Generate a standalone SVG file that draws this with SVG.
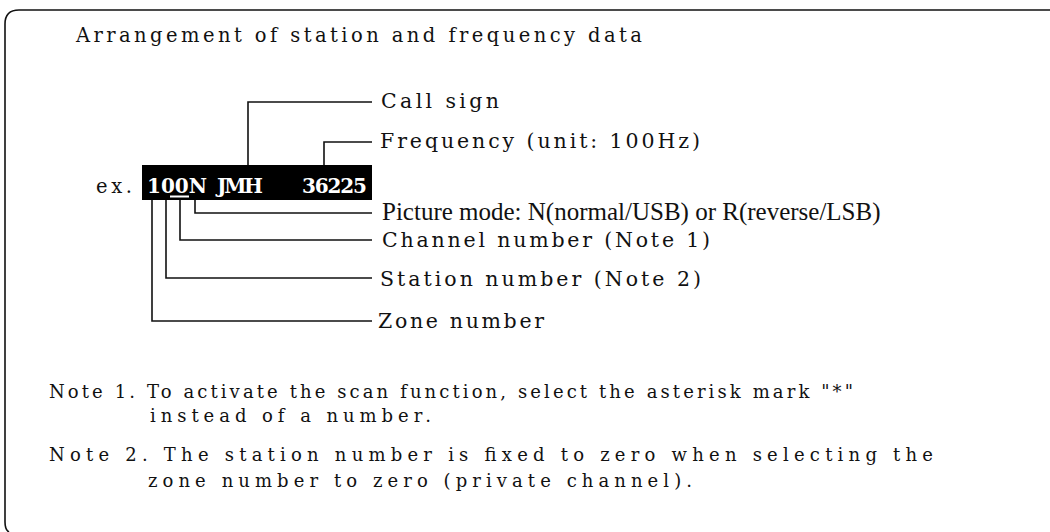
<svg xmlns="http://www.w3.org/2000/svg" width="1050" height="532" viewBox="0 0 1050 532">
<style>
text{font-family:"DejaVu Serif","Liberation Serif",serif;fill:#111;}
.title{font-size:19.5px;}
.lbl{font-size:20.5px;}
.pm{font-family:"Liberation Serif","Times New Roman",serif;font-size:25px;}
.note{font-size:18px;}
.disp{font-size:20px;font-weight:bold;fill:#fff;}
.ln{fill:none;stroke:#111;stroke-width:1.6;}
</style>
<rect width="1050" height="532" fill="#fff"/>
<path class="ln" d="M9 532 Q5 530 5 522 L5 24 Q5 10 19 10 L1050 10" stroke-width="2"/>
<g id="title"><text class="title" x="76" y="42" textLength="566" lengthAdjust="spacing">Arrangement of station and frequency data</text></g>
<g id="display">
<text class="title" x="96" y="193" textLength="36" lengthAdjust="spacing">ex.</text>
<rect x="142" y="165" width="230" height="35" fill="#000"/>
<text class="disp" x="147" y="193" textLength="60" lengthAdjust="spacing">100N</text>
<text class="disp" x="217" y="193" textLength="46" lengthAdjust="spacing">JMH</text>
<text class="disp" x="302" y="193" textLength="65" lengthAdjust="spacing">36225</text>
<line x1="170" y1="196.5" x2="189" y2="196.5" stroke="#fff" stroke-width="2"/>
</g>
<g id="connectors">
<path class="ln" d="M248 165 V102 H372"/>
<path class="ln" d="M324 165 V142 H372"/>
<path class="ln" d="M195 200 V213 H372"/>
<path class="ln" d="M180 200 V240 H372"/>
<path class="ln" d="M166 200 V278 H372"/>
<path class="ln" d="M152 200 V321 H372"/>
</g>
<g id="call-sign"><text class="lbl" x="381" y="108" textLength="118" lengthAdjust="spacing">Call sign</text></g>
<g id="frequency"><text class="lbl" x="380" y="148" textLength="320" lengthAdjust="spacing">Frequency (unit: 100Hz)</text></g>
<g id="picture-mode"><text class="pm" x="382" y="220">Picture mode: N(normal/USB) or R(reverse/LSB)</text></g>
<g id="channel-number"><text class="lbl" x="382" y="247" textLength="328" lengthAdjust="spacing">Channel number (Note 1)</text></g>
<g id="station-number"><text class="lbl" x="380" y="286" textLength="321" lengthAdjust="spacing">Station number (Note 2)</text></g>
<g id="zone-number"><text class="lbl" x="378" y="328" textLength="166" lengthAdjust="spacing">Zone number</text></g>
<g id="note1">
<text class="note" x="49" y="398" textLength="804" lengthAdjust="spacing">Note 1. To activate the scan function, select the asterisk mark "*"</text>
<text class="note" x="150" y="422" textLength="281" lengthAdjust="spacing">instead of a number.</text>
</g>
<g id="note2">
<text class="note" x="49" y="461" textLength="884" lengthAdjust="spacing">Note 2. The station number is fixed to zero when selecting the</text>
<text class="note" x="148" y="487" textLength="544" lengthAdjust="spacing">zone number to zero (private channel).</text>
</g>
</svg>
